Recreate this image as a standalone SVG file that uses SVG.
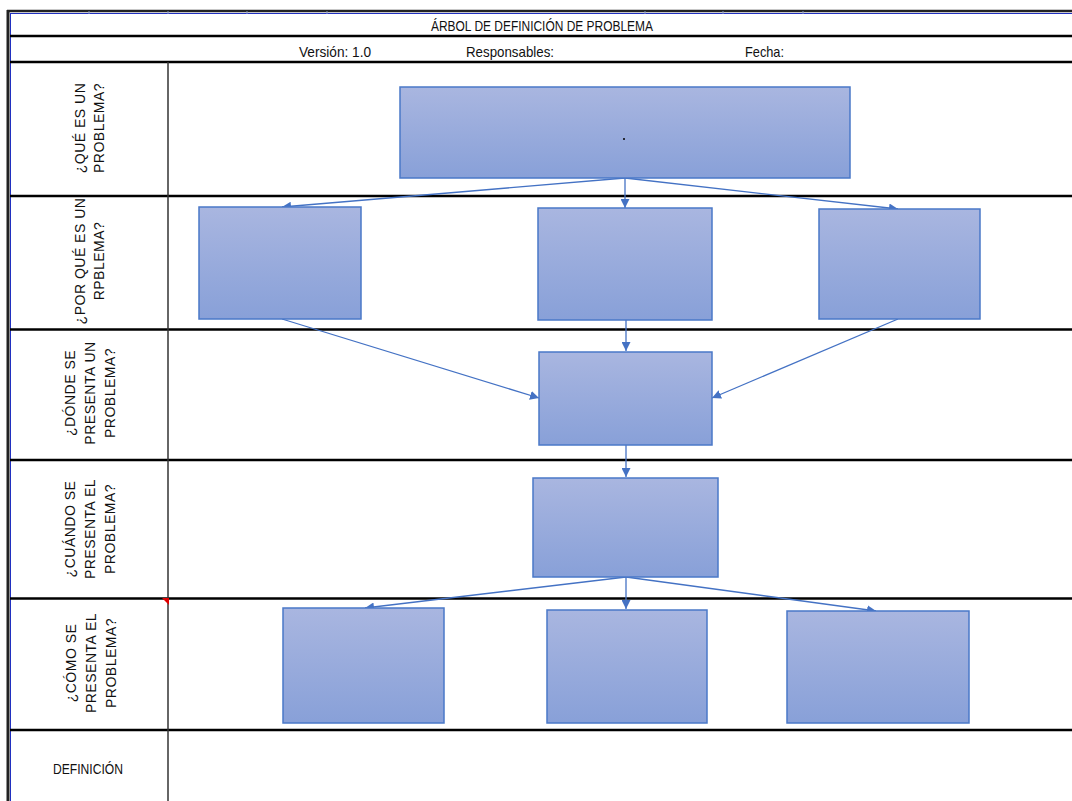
<svg xmlns="http://www.w3.org/2000/svg" width="1072" height="801" viewBox="0 0 1072 801">
  <style>
    .grid { stroke: #000; stroke-width: 2.5; fill: none; }
    .vline { stroke: #333; stroke-width: 1.5; fill: none; }
    .hdr { font-family: "Liberation Sans Narrow", "Liberation Sans", sans-serif; font-size: 15px; fill: #111; }
    .lbl { font-family: "Liberation Sans", "DejaVu Sans", sans-serif; font-size: 14px; letter-spacing: 0.5px; fill: #111; text-anchor: middle; }
    .box { fill: url(#boxFill); stroke: #4a78c8; stroke-width: 1.5; }
    .conn { stroke: #4472c4; stroke-width: 1.3; fill: none; marker-end: url(#arrow); }
  </style>
  <defs>
    <linearGradient id="boxFill" x1="0" y1="0" x2="0" y2="1">
      <stop offset="0" stop-color="#a9b6e0"/>
      <stop offset="1" stop-color="#88a0d8"/>
    </linearGradient>
    <marker id="arrow" viewBox="0 0 10 10" refX="10" refY="5" markerWidth="9" markerHeight="9" markerUnits="userSpaceOnUse" orient="auto">
      <path d="M0,0 L10,5 L0,10 z" fill="#4472c4"/>
    </marker>
  </defs>

  <rect width="1072" height="801" fill="#fff"/>

  <!-- sheet frame -->
  <g id="frame">
    <line x1="7" y1="11" x2="1072" y2="11" stroke="#222" stroke-width="2.5"/>
    <line x1="10" y1="13.5" x2="1072" y2="13.5" stroke="#2030c0" stroke-width="1"/>
    <line x1="8" y1="10" x2="8" y2="801" stroke="#222" stroke-width="3"/>
    <line x1="10.5" y1="13" x2="10.5" y2="801" stroke="#2030c0" stroke-width="1"/>
    <g stroke="#8090c0" stroke-width="1">
      <line x1="89" y1="11" x2="89" y2="14"/>
      <line x1="168" y1="11" x2="168" y2="14"/>
      <line x1="247" y1="11" x2="247" y2="14"/>
      <line x1="327" y1="11" x2="327" y2="14"/>
      <line x1="645" y1="11" x2="645" y2="14"/>
      <line x1="723" y1="11" x2="723" y2="14"/>
      <line x1="803" y1="11" x2="803" y2="14"/>
    </g>
    <line class="grid" x1="10" y1="36" x2="1072" y2="36"/>
    <line class="grid" x1="10" y1="62" x2="1072" y2="62"/>
    <line class="grid" x1="10" y1="196" x2="1072" y2="196"/>
    <line class="grid" x1="10" y1="329.5" x2="1072" y2="329.5"/>
    <line class="grid" x1="10" y1="460" x2="1072" y2="460"/>
    <line class="grid" x1="10" y1="598.5" x2="1072" y2="598.5"/>
    <line class="grid" x1="10" y1="730" x2="1072" y2="730"/>
    <line class="vline" x1="168" y1="62" x2="168" y2="801"/>
    <path d="M162,598 L169,598 L169,605 z" fill="#e00000"/>
  </g>

  <!-- header texts -->
  <g id="header">
    <text class="hdr" x="542" y="31" text-anchor="middle" textLength="222" lengthAdjust="spacingAndGlyphs">ÁRBOL DE DEFINICIÓN DE PROBLEMA</text>
    <text class="hdr" x="299" y="57" textLength="72" lengthAdjust="spacingAndGlyphs">Versión: 1.0</text>
    <text class="hdr" x="466" y="57" textLength="88" lengthAdjust="spacingAndGlyphs">Responsables:</text>
    <text class="hdr" x="745" y="57" textLength="39" lengthAdjust="spacingAndGlyphs">Fecha:</text>
  </g>

  <!-- row labels -->
  <g id="row-labels">
    <text class="lbl" transform="translate(85,128) rotate(-90)"><tspan x="0" y="0">¿QUÉ ES UN</tspan><tspan x="0" y="19">PROBLEMA?</tspan></text>
    <text class="lbl" transform="translate(85,261) rotate(-90)"><tspan x="0" y="0">¿POR QUÉ ES UN</tspan><tspan x="0" y="19">RPBLEMA?</tspan></text>
    <text class="lbl" transform="translate(75,393) rotate(-90)"><tspan x="0" y="0">¿DÓNDE SE</tspan><tspan x="0" y="20">PRESENTA UN</tspan><tspan x="0" y="40">PROBLEMA?</tspan></text>
    <text class="lbl" transform="translate(75,529) rotate(-90)"><tspan x="0" y="0">¿CUÁNDO SE</tspan><tspan x="0" y="20">PRESENTA EL</tspan><tspan x="0" y="40">PROBLEMA?</tspan></text>
    <text class="lbl" transform="translate(76,663) rotate(-90)"><tspan x="0" y="0">¿CÓMO SE</tspan><tspan x="0" y="20">PRESENTA EL</tspan><tspan x="0" y="40">PROBLEMA?</tspan></text>
    <text class="hdr" x="88" y="774" text-anchor="middle" textLength="70" lengthAdjust="spacingAndGlyphs">DEFINICIÓN</text>
  </g>

  <!-- connectors -->
  <g id="connectors">
    <line class="conn" x1="625" y1="178" x2="282" y2="207"/>
    <line class="conn" x1="625" y1="178" x2="625" y2="208"/>
    <line class="conn" x1="625" y1="178" x2="898" y2="209"/>
    <line class="conn" x1="282" y1="319" x2="539" y2="398"/>
    <line class="conn" x1="626" y1="320" x2="626" y2="351"/>
    <line class="conn" x1="898" y1="319" x2="712" y2="398"/>
    <line class="conn" x1="626" y1="445" x2="626" y2="477"/>
    <line class="conn" x1="626" y1="577" x2="365" y2="608"/>
    <line class="conn" x1="626" y1="577" x2="626" y2="609"/>
    <line class="conn" x1="626" y1="577" x2="876" y2="611"/>
  </g>

  <!-- nodes -->
  <g id="node-que">
    <rect class="box" x="400" y="87" width="450" height="91"/>
    <circle cx="624" cy="139" r="1" fill="#000"/>
  </g>
  <g id="node-porque-1"><rect class="box" x="199" y="207" width="162" height="112"/></g>
  <g id="node-porque-2"><rect class="box" x="538" y="208" width="174" height="112"/></g>
  <g id="node-porque-3"><rect class="box" x="819" y="209" width="161" height="110"/></g>
  <g id="node-donde"><rect class="box" x="539" y="352" width="173" height="93"/></g>
  <g id="node-cuando"><rect class="box" x="533" y="478" width="185" height="99"/></g>
  <g id="node-como-1"><rect class="box" x="283" y="608" width="161" height="115"/></g>
  <g id="node-como-2"><rect class="box" x="547" y="610" width="160" height="113"/></g>
  <g id="node-como-3"><rect class="box" x="787" y="611" width="182" height="112"/></g>
</svg>
